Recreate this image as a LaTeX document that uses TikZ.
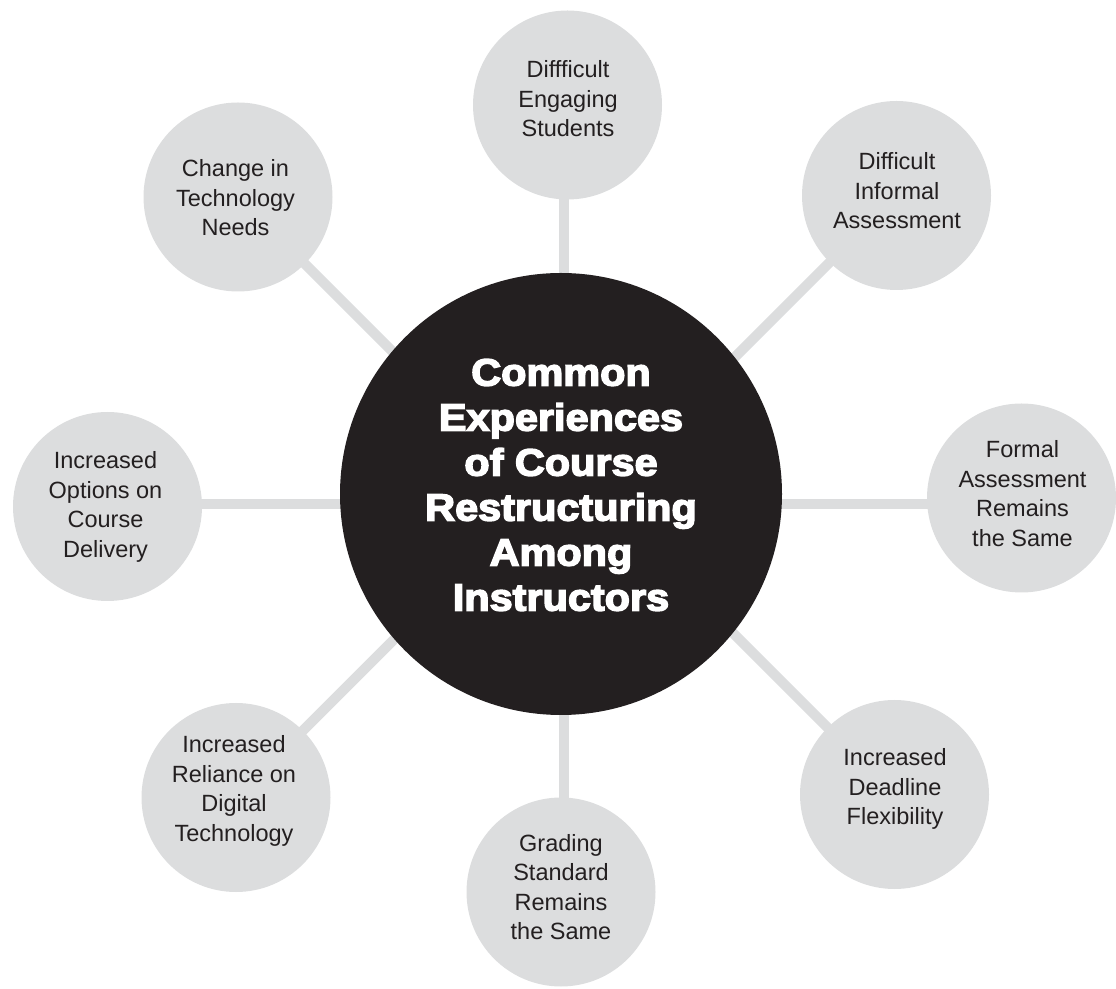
\documentclass[tikz,border=0pt]{standalone}
\usepackage{fontspec}
\setmainfont{Liberation Sans}
\newfontfamily\heavyfont{Liberation Sans Bold}[FakeBold=4,FakeStretch=1.09]
\usetikzlibrary{backgrounds}
\definecolor{bubblegray}{HTML}{DCDDDE}
\definecolor{hubblack}{HTML}{231F20}
\begin{document}
\begin{tikzpicture}[x=1pt,y=1pt,
  bubble/.style={circle, fill=bubblegray, minimum size=189pt, inner sep=0pt},
  hubdisc/.style={circle, fill=hubblack, minimum size=442pt, inner sep=0pt},
  caption/.style={align=center, text=hubblack, inner sep=0pt,
                  font=\fontsize{23.5}{29.5}\selectfont},
  headline/.style={align=center, text=white, inner sep=0pt,
                   font=\heavyfont\fontsize{38}{45}\selectfont},
  link/.style={draw=bubblegray, line width=10pt}]
\useasboundingbox (0,0) rectangle (1116,988);

% central disc and the point where the spokes meet
\node[hubdisc] (c) at (561,494) {};
\coordinate (hub) at (564,484);

% outer bubbles
\node[bubble] (top)    at (567.5,883)   {};
\node[bubble] (tr)     at (896.5,792.5) {};
\node[bubble] (right)  at (1021.5,490)  {};
\node[bubble] (br)     at (894.5,193.5) {};
\node[bubble] (bottom) at (561,96)      {};
\node[bubble] (bl)     at (236,190.5)   {};
\node[bubble] (left)   at (107.5,481.5) {};
\node[bubble] (tl)     at (238,791)     {};

% ends of the diagonal spokes, hidden under the central disc
\path (tl.center) ++(-45:330)  coordinate (tlend);
\path (tr.center) ++(-135:330) coordinate (trend);
\path (bl.center) ++(45:330)   coordinate (blend);
\path (br.center) ++(135:330)  coordinate (brend);

% spokes behind everything
\begin{scope}[on background layer]
  \draw[link] (top.center -| hub) -- (hub);
  \draw[link] (bottom.center -| hub) -- (hub);
  \draw[link] (left.center |- hub) -- (hub);
  \draw[link] (right.center |- hub) -- (hub);
  \draw[link] (tl.center) -- (tlend);
  \draw[link] (tr.center) -- (trend);
  \draw[link] (bl.center) -- (blend);
  \draw[link] (br.center) -- (brend);
\end{scope}

% texts
\node[headline] (ctext) at (561,503)
  {Common\\Experiences\\of Course\\Restructuring\\Among\\Instructors};
\node[caption] (toptext)    at (568,889)   {Diffficult\\Engaging\\Students};
\node[caption] (trtext)     at (897,797)   {Difficult\\Informal\\Assessment};
\node[caption] (righttext)  at (1022.5,494.5) {Formal\\Assessment\\Remains\\the Same};
\node[caption] (brtext)     at (895,199)   {Increased\\Deadline\\Flexibility};
\node[caption] (bottomtext) at (561,101)   {Grading\\Standard\\Remains\\the Same};
\node[caption] (bltext)     at (234,197)   {Increased\\Reliance on\\Digital\\Technology};
\node[caption] (lefttext)   at (105.5,481) {Increased\\Options on\\Course\\Delivery};
\node[caption] (tltext)     at (235.5,790) {Change in\\Technology\\Needs};
\end{tikzpicture}
\end{document}
